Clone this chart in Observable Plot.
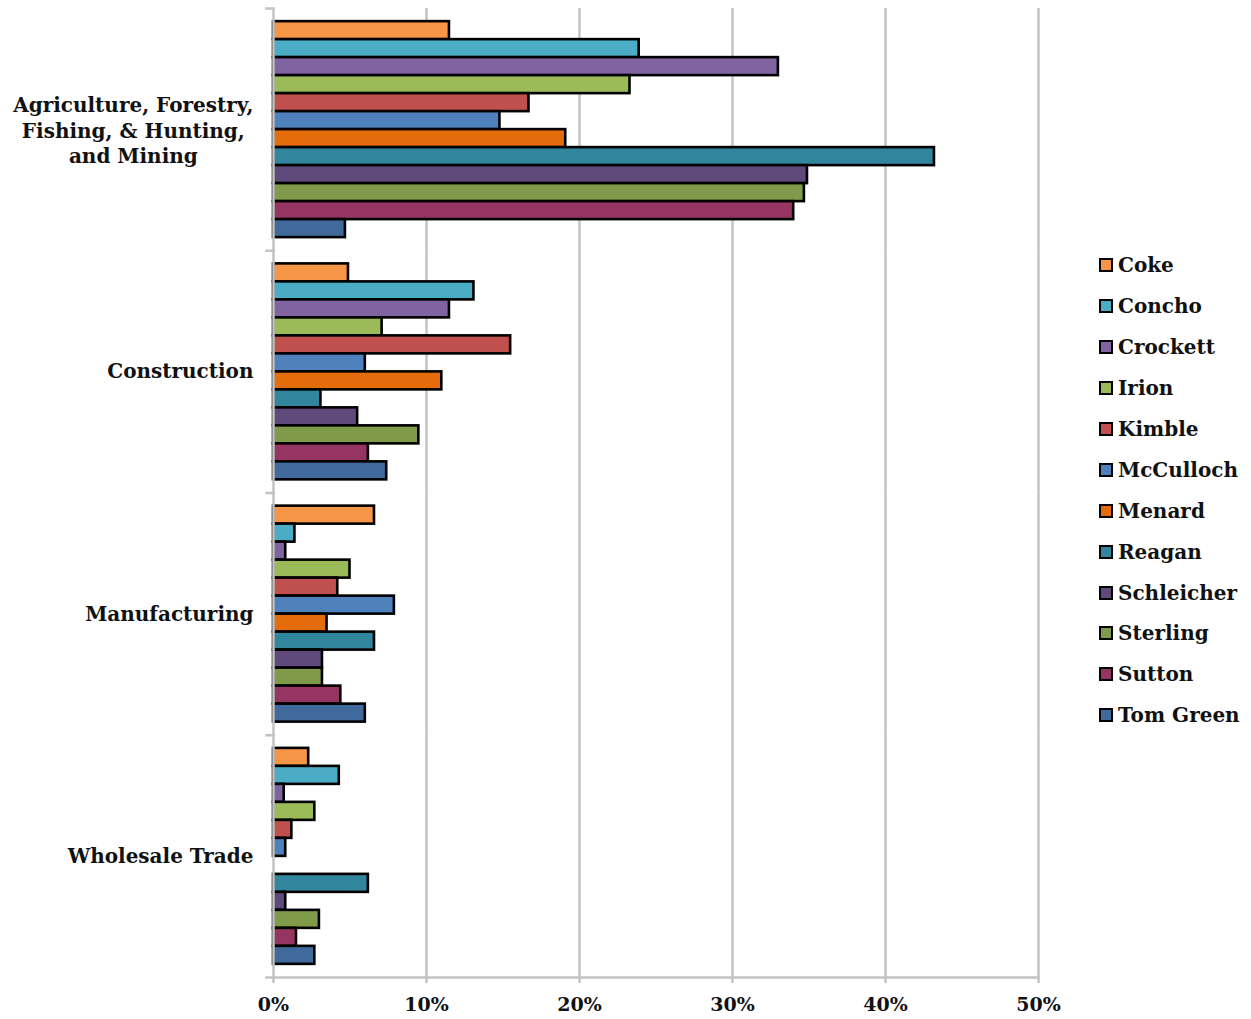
<!DOCTYPE html>
<html>
<head>
<meta charset="utf-8">
<script src="https://cdn.jsdelivr.net/npm/d3@7"></script>
<script src="https://cdn.jsdelivr.net/npm/@observablehq/plot@0.6"></script>
<style>
  body { margin: 0; background: #fff; }
  #wrap { position: relative; width: 1251px; height: 1019px; font-family: "DejaVu Serif", serif; }
  #legend { position: absolute; left: 1099px; top: 245px; }
  .item { height: 40.9px; display: flex; align-items: center; font-weight: bold; font-size: 20px; color: #111; white-space: nowrap; }
  .sw { width: 10px; height: 10px; border: 2px solid #000; margin-right: 5px; flex: none; }
</style>
</head>
<body>
<div id="wrap"></div>
<script>
const categories = ["Agriculture, Forestry, Fishing, & Hunting, and Mining", "Construction", "Manufacturing", "Wholesale Trade"];
const categoryLabels = ["Agriculture, Forestry,\nFishing, & Hunting,\nand Mining", "Construction", "Manufacturing", "Wholesale Trade"];
const counties = ["Coke", "Concho", "Crockett", "Irion", "Kimble", "McCulloch", "Menard", "Reagan", "Schleicher", "Sterling", "Sutton", "Tom Green"];
const countyColors = ["#F79646", "#4BACC6", "#8064A2", "#9BBB59", "#C0504D", "#4F81BD", "#E46C0A", "#31859C", "#604A7B", "#7F9A48", "#963462", "#3F6A9B"];

const agriculture   = [0.115, 0.239, 0.330, 0.233, 0.167, 0.148, 0.191, 0.432, 0.349, 0.347, 0.340, 0.047];
const construction  = [0.049, 0.131, 0.115, 0.071, 0.155, 0.060, 0.110, 0.031, 0.055, 0.095, 0.062, 0.074];
const manufacturing = [0.066, 0.014, 0.008, 0.050, 0.042, 0.079, 0.035, 0.066, 0.032, 0.032, 0.044, 0.060];
const wholesale     = [0.023, 0.043, 0.007, 0.027, 0.012, 0.008, null, 0.062, 0.008, 0.030, 0.015, 0.027];

const xTicks = [0, 0.1, 0.2, 0.3, 0.4, 0.5];

const series = [agriculture, construction, manufacturing, wholesale];
const data = [];
categories.forEach((c, i) => counties.forEach((k, j) => {
  const v = series[i][j];
  if (v != null) data.push({category: c, county: k, value: v});
}));
const labels = categories.map((c, i) => ({category: c, label: categoryLabels[i]}));

const W = 1251, H = 1019, mL = 273, mR = 213, mT = 8, mB = 42;
const fontSize = 20;
const ctx = document.createElement("canvas").getContext("2d");
ctx.font = `bold ${fontSize}px 'DejaVu Serif'`;
const maxLineWidth = (s) => Math.max(...s.split("\n").map(t => ctx.measureText(t).width));
const gap = 20;
const grid = "#c3c3c3";

const single = labels.filter(d => !d.label.includes("\n"));
const multi = labels.filter(d => d.label.includes("\n"));

const chart = Plot.plot({
  width: W, height: H,
  marginLeft: mL, marginRight: mR, marginTop: mT, marginBottom: mB,
  style: {fontFamily: "'DejaVu Serif', serif", fontWeight: "bold", fontSize: fontSize + "px", color: "#111", background: "#fff"},
  x: {domain: [0, 0.5], axis: null, label: null},
  y: {domain: counties, paddingInner: 0, paddingOuter: 0.73, round: false, axis: null},
  fy: {domain: categories, padding: 0, round: false, axis: null},
  color: {domain: counties, range: countyColors},
  marks: [
    Plot.ruleX(xTicks.slice(1), {stroke: grid, strokeWidth: 2.5}),
    Plot.barX(data, {fy: "category", y: "county", x: "value", fill: "county", stroke: "#000", strokeWidth: 2.6}),
    Plot.ruleX([0], {stroke: grid, strokeWidth: 2.5}),
    Plot.frame({anchor: "top", stroke: grid, strokeWidth: 2.5, insetLeft: -7, insetRight: W - mL - mR}),
    Plot.frame({anchor: "bottom", facetAnchor: "bottom", stroke: grid, strokeWidth: 2.5, insetLeft: -7}),
    Plot.axisX(xTicks, {label: null, tickFormat: d3.format(".0%"), tickSize: 6, tickPadding: 14, stroke: grid, strokeWidth: 2.5, fontSize: 19, fontWeight: "bold", fill: "#111"}),
    Plot.text(single, {fy: "category", text: "label", frameAnchor: "left", textAnchor: "end", dx: -gap, fontSize: fontSize, fontWeight: "bold", fill: "#111"}),
    ...multi.map(d => Plot.text([d], {fy: "category", text: "label", frameAnchor: "left", textAnchor: "middle", dx: -gap - maxLineWidth(d.label) / 2, lineHeight: 1.27, fontSize: fontSize, fontWeight: "bold", fill: "#111"}))
  ]
});

const wrap = document.getElementById("wrap");
wrap.appendChild(chart);
const legend = document.createElement("div");
legend.id = "legend";
counties.forEach((k, i) => {
  const item = document.createElement("div");
  item.className = "item";
  const sw = document.createElement("span");
  sw.className = "sw";
  sw.style.background = countyColors[i];
  item.appendChild(sw);
  item.appendChild(document.createTextNode(k));
  legend.appendChild(item);
});
wrap.appendChild(legend);
</script>
</body>
</html>
